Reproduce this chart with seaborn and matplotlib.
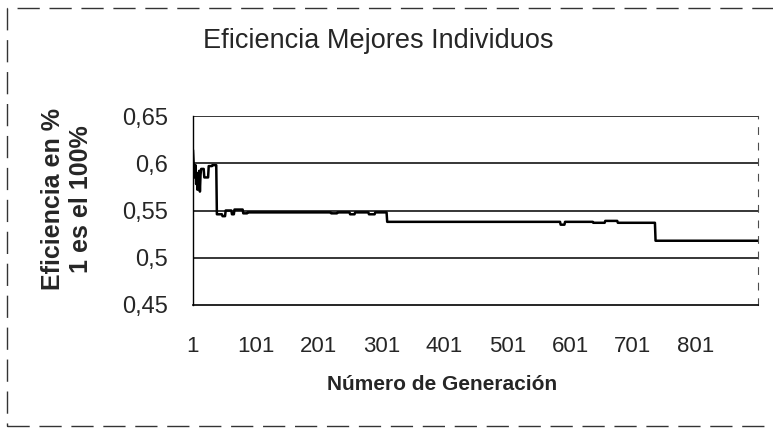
import numpy as np
import pandas as pd
import seaborn as sns
import matplotlib.pyplot as plt
from matplotlib.patches import Rectangle

# step series: generation where each level starts, and its value
STEP_START = [1, 2, 3, 4, 5, 6, 7, 8, 9, 10, 11, 12, 13, 14, 19, 26, 32,
              39, 48, 53, 63, 67, 81, 88, 221, 231, 251, 259, 281, 291,
              310, 586, 593, 638, 657, 677, 737]
STEP_VALUE = [0.614, 0.600, 0.592, 0.585, 0.598, 0.578, 0.590, 0.572, 0.585,
              0.575, 0.592, 0.570, 0.588, 0.594, 0.585, 0.597, 0.598,
              0.546, 0.544, 0.550, 0.546, 0.551, 0.547, 0.548, 0.547, 0.548,
              0.546, 0.548, 0.546, 0.548,
              0.538, 0.535, 0.538, 0.537, 0.539, 0.537, 0.518]
N_GEN = 900

X_TICKS = [1, 101, 201, 301, 401, 501, 601, 701, 801]
Y_TICKS = [0.45, 0.5, 0.55, 0.6, 0.65]
Y_TICK_LABELS = ["0,45", "0,5", "0,55", "0,6", "0,65"]

# expand run lengths into one value per generation
lengths = np.diff(STEP_START + [N_GEN + 1])
df = pd.DataFrame({
    "gen": np.arange(1, N_GEN + 1),
    "eff": np.repeat(STEP_VALUE, lengths),
})

sns.set_style("white")
plt.rcParams['font.family'] = ['Liberation Sans', 'DejaVu Sans']

fig = plt.figure(figsize=(7.73, 4.42), dpi=100)
ax = fig.add_axes([193 / 773, 1 - 305 / 442, (758 - 193) / 773, (305 - 116) / 442])

sns.lineplot(data=df, x="gen", y="eff", ax=ax, color="black", linewidth=1.8)

ax.set_xlim(1, N_GEN)
ax.set_ylim(0.45, 0.65)
ax.set_xticks(X_TICKS)
ax.set_xticklabels([str(t) for t in X_TICKS], fontsize=16)
ax.set_yticks(Y_TICKS)
ax.set_yticklabels(Y_TICK_LABELS, fontsize=17)
ax.tick_params(axis="y", direction="inout", length=8, width=1, pad=14, color="black")
ax.tick_params(axis="x", direction="out", length=3, width=0.8, pad=19, color="black")
ax.set_xlabel("")
ax.set_ylabel("")

for y in [0.5, 0.55, 0.6, 0.65]:
    ax.axhline(y, color="black", linewidth=1.1, zorder=1)

ax.spines["left"].set_color("black")
ax.spines["left"].set_linewidth(1)
ax.spines["bottom"].set_color("black")
ax.spines["bottom"].set_linewidth(1.2)
ax.spines["top"].set_visible(False)
ax.spines["right"].set_color("0.3")
ax.spines["right"].set_linewidth(0.8)
ax.spines["right"].set_linestyle((0, (6, 8)))

fig.text(378 / 773, 1 - 41 / 442, "Eficiencia Mejores Individuos",
         ha="center", va="center", fontsize=19.5)
fig.text(442 / 773, 1 - 385 / 442, "Número de Generación",
         ha="center", va="center", fontsize=15, fontweight="bold")
fig.text(67 / 773, 1 - 199 / 442, "Eficiencia en %\n1 es el 100%",
         ha="center", va="center", rotation=90, fontsize=18,
         fontweight="bold", linespacing=1.2, multialignment="center")

# scanned page border
fig.patches.append(Rectangle((7 / 773, 1 - 426 / 442), 1.2, (426 - 8) / 442,
                             transform=fig.transFigure, fill=False,
                             edgecolor="0.2", linewidth=1,
                             linestyle=(0, (16, 7))))

fig.savefig("out.png", dpi=100)
